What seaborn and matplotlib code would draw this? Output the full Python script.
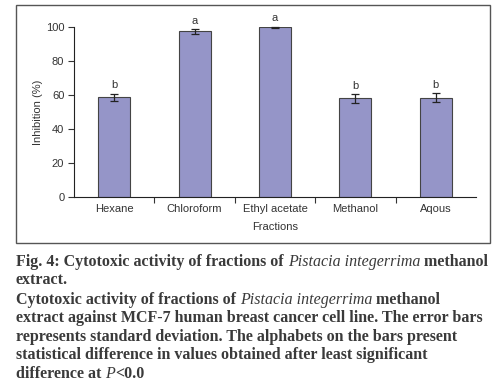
import matplotlib
matplotlib.use("Agg")
import matplotlib.pyplot as plt
import seaborn as sns
import pandas as pd
import numpy as np
from matplotlib.patches import Rectangle

fractions = ["Hexane", "Chloroform", "Ethyl acetate", "Methanol", "Aqous"]
inhibition = [58.7, 97.6, 99.9, 58.1, 58.6]
std_dev = [2.2, 1.3, 0.3, 2.6, 2.5]
letters = ["b", "a", "a", "b", "b"]
yticks = [0, 20, 40, 60, 80, 100]

df = pd.DataFrame({"Fractions": fractions, "Inhibition": inhibition})

sns.set_style("white")
plt.rcParams["font.family"] = ["Liberation Sans", "DejaVu Sans"]

fig = plt.figure(figsize=(5.0, 3.89), dpi=100)
ax = fig.add_axes([0.148, 0.4936, 0.804, 0.4362])

sns.barplot(data=df, x="Fractions", y="Inhibition", color="#9595C8",
            width=0.4, edgecolor="#444444", linewidth=0.8, saturation=1,
            errorbar=None, ax=ax)

xpos = np.arange(len(fractions))
ax.errorbar(xpos, inhibition, yerr=std_dev, fmt="none", ecolor="#222222",
            elinewidth=0.9, capsize=2.6, capthick=0.9, clip_on=False, zorder=5)

for x, v, s, t in zip(xpos, inhibition, std_dev, letters):
    ax.annotate(t, (x, v + s), xytext=(0, 2.5), textcoords="offset points",
                ha="center", va="bottom", fontsize=8, color="#333333")

ax.set_xlim(-0.5, len(fractions) - 0.5)
ax.set_ylim(0, 100)
ax.set_yticks(yticks)
ax.set_yticklabels([str(v) for v in yticks])
ax.set_xticks(xpos)
ax.set_xticklabels(fractions)
ax.tick_params(axis="x", length=0, pad=5, labelsize=8, labelcolor="#333333")
ax.tick_params(axis="y", length=4, width=0.8, color="#333333", direction="out",
               labelsize=8, labelcolor="#333333", pad=3, left=True)
ax.set_xticks(xpos[:-1] + 0.5, minor=True)
ax.tick_params(axis="x", which="minor", length=4, width=0.8, color="#333333",
               direction="out", bottom=True)

for side in ["top", "right"]:
    ax.spines[side].set_visible(False)
for side in ["left", "bottom"]:
    ax.spines[side].set_color("#222222")
    ax.spines[side].set_linewidth(0.8)

ax.set_xlabel("Fractions", fontsize=8, color="#333333", labelpad=6)
ax.set_ylabel("Inhibition (%)", fontsize=8, color="#333333", labelpad=2)

fig.patches.append(Rectangle((0.032, 0.3753), 0.948, 0.612, transform=fig.transFigure,
                             fill=False, edgecolor="#555555", linewidth=1.0))

cap_kw = dict(fontsize=11.5, fontweight="bold", color="#3a3a3a",
              family=["Liberation Serif", "DejaVu Serif"], va="baseline", ha="left")
it_kw = dict(cap_kw, fontstyle="italic", fontweight="normal")

def line(parts, y):
    x = 0.032
    r = fig.canvas.get_renderer()
    for txt, kw in parts:
        t = fig.text(x, y, txt, **kw)
        bb = t.get_window_extent(renderer=r)
        x += bb.width / fig.bbox.width

fig.canvas.draw()
lines = [
    [("Fig. 4: Cytotoxic activity of fractions of ", cap_kw), ("Pistacia integerrima", it_kw), (" methanol", cap_kw)],
    [("extract.", cap_kw)],
    [("Cytotoxic activity of fractions of ", cap_kw), ("Pistacia integerrima", it_kw), (" methanol", cap_kw)],
    [("extract against MCF-7 human breast cancer cell line. The error bars", cap_kw)],
    [("represents standard deviation. The alphabets on the bars present", cap_kw)],
    [("statistical difference in values obtained after least significant", cap_kw)],
    [("difference at ", cap_kw), ("P", it_kw), ("<0.0", cap_kw)],
]
baselines = [266, 284, 304, 322, 341, 359, 378]
for parts, b in zip(lines, baselines):
    line(parts, 1 - b / 389)

fig.savefig("out.png", dpi=100)
